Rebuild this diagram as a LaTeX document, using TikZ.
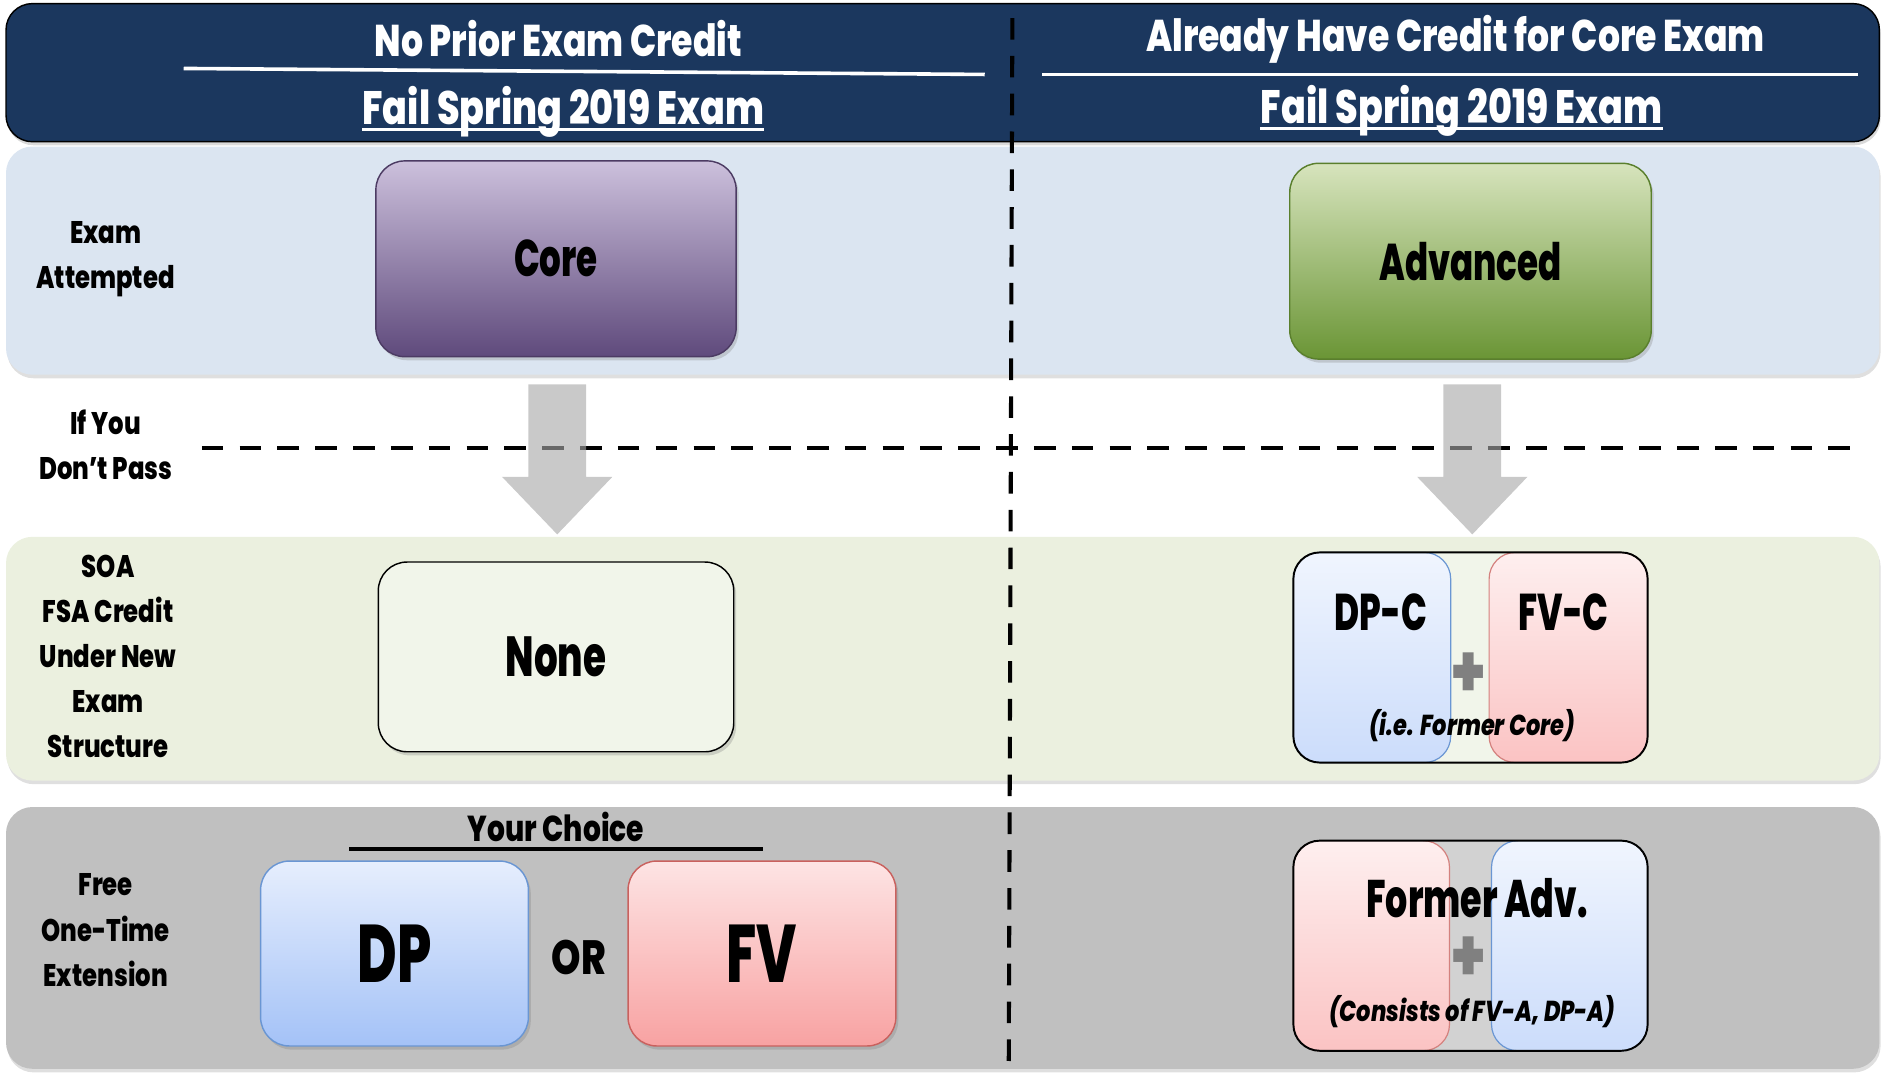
\documentclass[tikz,border=0pt]{standalone}
\usepackage{fontspec}
\setmainfont{Poppins}[FakeStretch=0.78, BoldFont={Poppins ExtraBold}, BoldItalicFont={Poppins ExtraBold Italic}]
\newfontfamily\bigf{Poppins}[FakeStretch=0.66, BoldFont={Poppins ExtraBold}, BoldItalicFont={Poppins ExtraBold Italic}]
\usetikzlibrary{shadows}
\definecolor{navy}{HTML}{1B375E}
\definecolor{bandA}{HTML}{DBE5F1}
\definecolor{bandB}{HTML}{EBF0DF}
\definecolor{bandC}{HTML}{C0C0C0}
\definecolor{purT}{HTML}{CCC0DC}
\definecolor{purB}{HTML}{5F4A7C}
\definecolor{grnT}{HTML}{D7E4BD}
\definecolor{grnB}{HTML}{6A9535}
\definecolor{bluT}{HTML}{E6EEFD}
\definecolor{bluB}{HTML}{A4C2F7}
\definecolor{bluE}{HTML}{6A96D3}
\definecolor{redT}{HTML}{FDE4E4}
\definecolor{redB}{HTML}{F8A2A2}
\definecolor{redE}{HTML}{C9615E}
\definecolor{noneF}{HTML}{F1F5EA}
\definecolor{arrC}{RGB}{168,168,168}
\begin{document}
\begin{tikzpicture}[x=1pt,y=-1pt,
  band/.style={draw=none, rounded corners=22pt, minimum width=1560, inner sep=0pt,
     drop shadow={opacity=0.25, shadow xshift=1pt, shadow yshift=-3pt}},
  exambox/.style={rounded corners=24pt, inner sep=0pt, line width=1.2pt,
     drop shadow={opacity=0.3, shadow xshift=2pt, shadow yshift=-3pt}},
  rowlabel/.style={align=center, font=\bfseries\fontsize{26}{37.5}\selectfont, text=black},
  hdr/.style={text=white, font=\bfseries\fontsize{37}{40}\selectfont, inner sep=0pt},
  half/.style={rounded corners=22pt, inner sep=0pt, line width=1pt, minimum height=175},
  frame/.style={draw=black, line width=1.6pt, rounded corners=22pt, inner sep=0pt, minimum width=295, minimum height=175},
  plus/.style={text=black!50, font=\bfseries\fontsize{62}{62}\selectfont},
  dsh/.style={line width=3.4pt, dash pattern=on 18pt off 13.5pt},
  garrow/.style={fill=arrC, draw=none, fill opacity=0.62}
]
\useasboundingbox (0,0) rectangle (1568,894);

% header
\node[fill=navy, draw=black, line width=1.2pt, rounded corners=22pt, minimum width=1560, minimum height=115, inner sep=0pt,
  drop shadow={opacity=0.3, shadow xshift=1pt, shadow yshift=-3pt}] (header) at (785,60.5) {};
\node[hdr] (h1) at (465,32) {No Prior Exam Credit};
\node[hdr] (h2) at (1212,33) {Already Have Credit for Core Exam};
\node[hdr, anchor=base, font=\bfseries\fontsize{39}{40}\selectfont] (f1) at (469,104) {Fail Spring 2019 Exam};
\node[hdr, anchor=base, font=\bfseries\fontsize{39}{40}\selectfont] (f2) at (1217,103) {Fail Spring 2019 Exam};
\coordinate (l1a) at (153,57); \coordinate (l1b) at (820,62);
\coordinate (l2a) at (868,62); \coordinate (l2b) at (1547,62);
\draw[white, line width=3pt] (l1a) -- (l1b);
\draw[white, line width=3pt] (l2a) -- (l2b);
\draw[white, line width=2pt] ([yshift=-4pt]f1.base west) -- ([yshift=-4pt]f1.base east);
\draw[white, line width=2pt] ([yshift=-4pt]f2.base west) -- ([yshift=-4pt]f2.base east);

% bands
\node[band, fill=bandA, minimum height=190] (row1) at (785,217) {};
\node[band, fill=bandB, minimum height=203] (row2) at (785,548.5) {};
\node[band, fill=bandC, minimum height=218] (row3) at (785,781) {};

% row labels
\node[rowlabel] (lab1) at (88,215.5) {Exam\\Attempted};
\node[rowlabel] (lab2) at (88,370.5) {If You\\Don’t Pass};
\node[rowlabel] (lab3) at (90,546.5) {SOA\\FSA Credit\\Under New\\Exam\\Structure};
\node[rowlabel] (lab4) at (88,774.5) {Free\\One-Time\\Extension};

% row 1 boxes
\node[exambox, draw=purB!80!black, top color=purT, bottom color=purB, minimum width=300, minimum height=163,
  font=\bigf\bfseries\fontsize{43}{43}\selectfont] (core) at (463,215.5) {Core};
\node[exambox, draw=grnB!85!black, top color=grnT, bottom color=grnB, minimum width=301, minimum height=163,
  font=\bigf\bfseries\fontsize{43}{43}\selectfont] (adv) at (1224.5,217.5) {Advanced};

% horizontal dashed divider (under the arrows)
\coordinate (ha) at (168,373); \coordinate (hb) at (1552,373);
\draw[dsh] (ha) -- (hb);

% arrows
\coordinate (aL) at (464,320); \coordinate (aR) at (1226,320);
\fill[garrow] ([xshift=-24pt]aL) -- ++(0,77) -- ++(-22,0) -- ++(46,48) -- ++(46,-48) -- ++(-22,0) -- ++(0,-77) -- cycle;
\fill[garrow] ([xshift=-24pt]aR) -- ++(0,77) -- ++(-22,0) -- ++(46,48) -- ++(46,-48) -- ++(-22,0) -- ++(0,-77) -- cycle;

% row 2
\node[exambox, draw=black, fill=noneF, minimum width=296, minimum height=158,
  font=\bigf\bfseries\fontsize{47}{47}\selectfont] (none) at (463,547) {None};
\node[frame, draw=none, fill=noneF] (grpC) at (1224.5,547.5) {};
\node[half, draw=bluE, top color=bluT!60!white, bottom color=bluT!60!bluB, minimum width=131] (dpc) at (1142.5,547.5) {};
\node[half, draw=redE!80!white, top color=redT!60!white, bottom color=redT!50!redB, minimum width=132] (fvc) at (1306,547.5) {};
\node[frame] (grpCf) at (1224.5,547.5) {};
\node[font=\bigf\bfseries\fontsize{43}{43}\selectfont] (tdpc) at (1150,510) {DP-C};
\node[font=\bigf\bfseries\fontsize{43}{43}\selectfont] (tfvc) at (1302,510) {FV-C};
\node[plus] (p1) at (1223,562) {+};
\node[font=\bfseries\itshape\fontsize{24}{24}\selectfont] (iec) at (1226,604) {(i.e. Former Core)};

% row 3
\node[font=\bfseries\fontsize{30}{30}\selectfont, inner sep=0pt] (yc) at (463,689) {Your Choice};
\coordinate (yca) at (291,707); \coordinate (ycb) at (635,707);
\draw[line width=3pt] (yca) -- (ycb);
\node[exambox, draw=bluE, top color=bluT, bottom color=bluB, minimum width=223, minimum height=154,
  font=\bigf\bfseries\fontsize{68}{68}\selectfont] (dp) at (328.5,794) {DP};
\node[font=\bfseries\fontsize{40}{40}\selectfont] (or) at (482,797) {OR};
\node[exambox, draw=redE, top color=redT, bottom color=redB, minimum width=223, minimum height=154,
  font=\bigf\bfseries\fontsize{68}{68}\selectfont] (fv) at (634.5,794) {FV};

\node[frame, draw=none, fill=gray!35] (grpA) at (1224.5,787.5) {};
\node[half, draw=redE!80!white, top color=redT!60!white, bottom color=redT!50!redB, minimum width=130] (fva) at (1142,787.5) {};
\node[half, draw=bluE, top color=bluT!60!white, bottom color=bluT!60!bluB, minimum width=130] (dpa) at (1307,787.5) {};
\node[frame] (grpAf) at (1224.5,787.5) {};
\node[font=\bigf\bfseries\fontsize{44}{44}\selectfont] (tfa) at (1230,748) {Former Adv.};
\node[plus] (p2) at (1223,799) {+};
\node[font=\bfseries\itshape\fontsize{24}{24}\selectfont] (cons) at (1226,842) {(Consists of FV-A, DP-A)};

% vertical dashed divider
\coordinate (va) at (843,15); \coordinate (vb) at (840,886);
\draw[dsh] (va) -- (vb);
\end{tikzpicture}
\end{document}
